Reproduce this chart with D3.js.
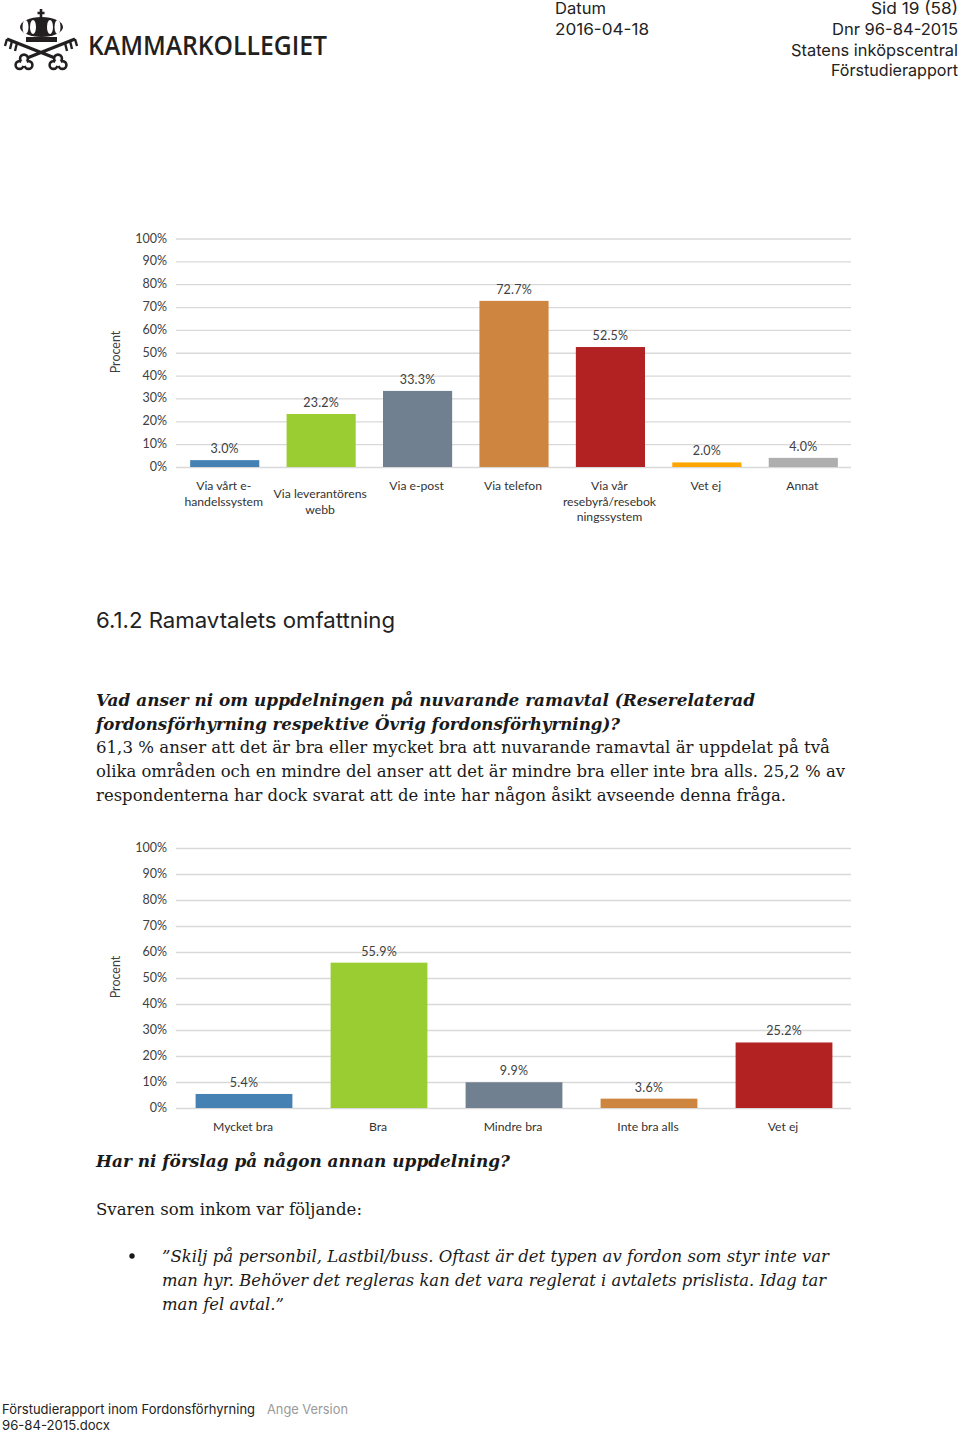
<!DOCTYPE html>
<html>
<head>
<meta charset="utf-8">
<script src="https://cdn.jsdelivr.net/npm/d3@7"></script>
<style>
html, body { margin: 0; padding: 0; background: #fff; }
svg { display: block; }
.grid line { stroke: #d9d9d9; stroke-width: 1.3; }
.grid path { display: none; }
.grid text, .val, .ylab { font-family: Lato, "Open Sans", sans-serif; font-size: 12.5px; fill: #404040; }
.cat { font-family: Lato, "Open Sans", sans-serif; font-size: 12.2px; fill: #333; }
.sans { font-family: Inter, "Liberation Sans", sans-serif; fill: #222; }
.serif { font-family: "DejaVu Serif", serif; fill: #1a1a1a; }
</style>
</head>
<body>
<svg id="page" width="960" height="1431"></svg>
<script>
var yTicks = [0, 10, 20, 30, 40, 50, 60, 70, 80, 90, 100];
var colors = ['#4681b4', '#9acd32', '#708090', '#cd853f', '#b22222', '#ffa500', '#aeaeae'];

var categories1 = [['Via vårt e-', 'handelssystem'], ['Via leverantörens', 'webb'], ['Via e-post'], ['Via telefon'], ['Via vår', 'resebyrå/resebok', 'ningssystem'], ['Vet ej'], ['Annat']];
var values1 = [3.0, 23.2, 33.3, 72.7, 52.5, 2.0, 4.0];

var categories2 = [['Mycket bra'], ['Bra'], ['Mindre bra'], ['Inte bra alls'], ['Vet ej']];
var values2 = [5.4, 55.9, 9.9, 3.6, 25.2];

var headerRight = [['Sid 19 (58)', 87], ['Dnr 96-84-2015', 126], ['Statens inköpscentral', 167], ['Förstudierapport', 127]];
var bodyLines = [
  ['Vad anser ni om uppdelningen på nuvarande ramavtal (Reserelaterad', 96, 705.5, 659, true],
  ['fordonsförhyrning respektive Övrig fordonsförhyrning)?', 96, 729.5, 524, true],
  ['61,3 % anser att det är bra eller mycket bra att nuvarande ramavtal är uppdelat på två', 96, 753, 734, false],
  ['olika områden och en mindre del anser att det är mindre bra eller inte bra alls. 25,2 % av', 96, 777, 749, false],
  ['respondenterna har dock svarat att de inte har någon åsikt avseende denna fråga.', 96, 801, 690, false],
  ['Har ni förslag på någon annan uppdelning?', 96, 1166.5, 414, true],
  ['Svaren som inkom var följande:', 96, 1214.5, 266, false]
];
var quoteLines = [
  ['”Skilj på personbil, Lastbil/buss. Oftast är det typen av fordon som styr inte var', 162, 1261.5, 667],
  ['man hyr. Behöver det regleras kan det vara reglerat i avtalets prislista. Idag tar', 162, 1285.5, 664],
  ['man fel avtal.”', 162, 1309.5, 122]
];

var svg = d3.select('#page');

function drawChart(cfg) {
  var x = d3.scaleBand().domain(d3.range(cfg.values.length)).range([176.5, 851.5]).paddingInner(cfg.pad).paddingOuter(cfg.pad / 2);
  var y = d3.scaleLinear().domain([0, 100]).range([cfg.bottom, cfg.top]);
  var g = svg.append('g');

  var axis = g.append('g').attr('class', 'grid')
    .attr('transform', 'translate(176,0)')
    .call(d3.axisLeft(y).tickValues(yTicks).tickSize(-675).tickPadding(9).tickFormat(d => d + '%'));
  axis.selectAll('text').attr('y', -0.5);

  g.selectAll('rect').data(cfg.values).enter().append('rect')
    .attr('x', (d, i) => x(i))
    .attr('y', d => y(d))
    .attr('width', x.bandwidth())
    .attr('height', d => y(0) - y(d))
    .attr('fill', (d, i) => colors[i]);

  g.selectAll('.val').data(cfg.values).enter().append('text')
    .attr('class', 'val')
    .attr('text-anchor', 'middle')
    .attr('x', (d, i) => x(i) + x.bandwidth() / 2)
    .attr('y', d => y(d) - 7)
    .attr('letter-spacing', 0.2)
    .text(d => d.toFixed(1) + '%');

  var cats = g.selectAll('.cat').data(cfg.categories).enter().append('text')
    .attr('class', 'cat')
    .attr('text-anchor', 'middle')
    .attr('transform', (d, i) => `translate(${x(i) + x.bandwidth() / 2 - 1},${cfg.catY[i]})`);
  cats.selectAll('tspan').data(d => d).enter().append('tspan')
    .attr('x', 0)
    .attr('dy', (d, i) => i ? 15.5 : 0)
    .text(d => d);

  g.append('text').attr('class', 'ylab')
    .attr('text-anchor', 'middle')
    .attr('transform', `translate(119.5,${cfg.labelY}) rotate(-90)`)
    .text('Procent');
}

drawChart({ values: values1, categories: categories1, top: 238.5, bottom: 467, pad: 0.283, labelY: 352, catY: [490, 498, 490, 490, 490, 490, 490] });
drawChart({ values: values2, categories: categories2, top: 848, bottom: 1108, pad: 0.283, labelY: 977, catY: [1131, 1131, 1131, 1131, 1131] });

// header
svg.append('text').attr('class', 'sans').attr('x', 555).attr('y', 14).attr('font-size', 16.5)
  .attr('textLength', 51).attr('lengthAdjust', 'spacingAndGlyphs').text('Datum');
svg.append('text').attr('class', 'sans').attr('x', 555).attr('y', 35).attr('font-size', 16.5)
  .attr('textLength', 94).attr('lengthAdjust', 'spacingAndGlyphs').text('2016-04-18');
svg.selectAll('.hr').data(headerRight).enter().append('text')
  .attr('class', 'sans hr')
  .attr('x', d => 958 - d[1])
  .attr('y', (d, i) => 14 + i * 20.8)
  .attr('font-size', 16.5)
  .attr('textLength', d => d[1]).attr('lengthAdjust', 'spacingAndGlyphs')
  .text(d => d[0]);

// logo
var logo = svg.append('g').attr('fill', '#231f20');
logo.append('ellipse').attr('cx', 41.5).attr('cy', 27).attr('rx', 21.5).attr('ry', 10);
[25.5, 33, 50, 57.5].forEach(cx => {
  logo.append('ellipse').attr('cx', cx).attr('cy', 27).attr('rx', 3).attr('ry', 7).attr('fill', '#fff');
});
logo.append('rect').attr('x', 26).attr('y', 37).attr('width', 31).attr('height', 5);
logo.append('path').attr('fill', 'none').attr('stroke', '#231f20').attr('stroke-width', 2.6)
  .attr('d', 'M41 19V9M37.5 13H44.5');
logo.append('path').attr('fill', 'none').attr('stroke', '#231f20').attr('stroke-width', 3.2)
  .attr('d', 'M7 39L55 58M75 39L27 58');
logo.append('path').attr('fill', 'none').attr('stroke', '#231f20').attr('stroke-width', 2.4)
  .attr('d', 'M7 39L5 46M12 41L10 49M17 43L15 51M75 39L77 46M70 41L72 49M65 43L67 51');
[[24, 63], [58, 63]].forEach(c => {
  var lobes = [[c[0], c[1] - 4.5], [c[0] - 4.5, c[1] + 2], [c[0] + 4.5, c[1] + 2]];
  lobes.forEach(p => logo.append('circle').attr('cx', p[0]).attr('cy', p[1]).attr('r', 5.2));
  lobes.forEach(p => logo.append('circle').attr('cx', p[0]).attr('cy', p[1]).attr('r', 2.6).attr('fill', '#fff'));
  logo.append('circle').attr('cx', c[0]).attr('cy', c[1]).attr('r', 3).attr('fill', '#fff');
});
svg.append('text').attr('x', 88).attr('y', 55).attr('font-family', '"Open Sans", sans-serif')
  .attr('font-size', 27.5).attr('font-weight', 600).attr('fill', '#231f20')
  .attr('textLength', 239).attr('lengthAdjust', 'spacingAndGlyphs').text('KAMMARKOLLEGIET');

// body text
svg.append('text').attr('class', 'sans').attr('x', 96).attr('y', 628).attr('font-size', 22)
  .attr('textLength', 299).attr('lengthAdjust', 'spacingAndGlyphs').text('6.1.2 Ramavtalets omfattning');

svg.selectAll('.body').data(bodyLines).enter().append('text')
  .attr('class', 'serif body')
  .attr('x', d => d[1]).attr('y', d => d[2])
  .attr('font-size', 17.5)
  .attr('font-weight', d => d[4] ? 700 : 400)
  .attr('font-style', d => d[4] ? 'italic' : 'normal')
  .attr('textLength', d => d[3]).attr('lengthAdjust', 'spacingAndGlyphs')
  .text(d => d[0]);

svg.append('circle').attr('cx', 132).attr('cy', 1256).attr('r', 2.7).attr('fill', '#1a1a1a');
svg.selectAll('.quote').data(quoteLines).enter().append('text')
  .attr('class', 'serif quote')
  .attr('x', d => d[1]).attr('y', d => d[2])
  .attr('font-size', 17.5).attr('font-style', 'italic')
  .attr('textLength', d => d[3]).attr('lengthAdjust', 'spacingAndGlyphs')
  .text(d => d[0]);

// footer
svg.append('text').attr('class', 'sans').attr('x', 2).attr('y', 1413.5).attr('font-size', 13.5)
  .attr('textLength', 253).attr('lengthAdjust', 'spacingAndGlyphs').text('Förstudierapport inom Fordonsförhyrning');
svg.append('text').attr('class', 'sans').attr('x', 267).attr('y', 1413.5).attr('font-size', 13.5).style('fill', '#9a9a9a')
  .attr('textLength', 81).attr('lengthAdjust', 'spacingAndGlyphs').text('Ange Version');
svg.append('text').attr('class', 'sans').attr('x', 2).attr('y', 1430).attr('font-size', 13.5)
  .attr('textLength', 108).attr('lengthAdjust', 'spacingAndGlyphs').text('96-84-2015.docx');
</script>
</body>
</html>
